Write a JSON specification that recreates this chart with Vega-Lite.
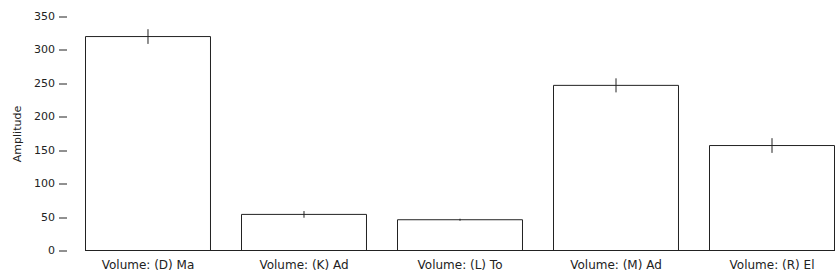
{
  "$schema": "https://vega.github.io/schema/vega-lite/v6.json",
  "autosize": {"type": "none"},
  "width": 749,
  "height": 234,
  "padding": {"left": 85.5, "top": 16.5, "right": 2.5, "bottom": 29.5},
  "background": "white",
  "config": {
    "view": {"stroke": null},
    "font": "DejaVu Sans",
    "axis": {"labelFont": "DejaVu Sans", "titleFont": "DejaVu Sans", "labelColor": "#222", "titleColor": "#222", "titleFontWeight": "normal", "labelFontSize": 11, "titleFontSize": 11, "grid": false, "labelOverlap": false}
  },
  "data": {
    "values": [
      {"volume": "Volume: (D) Ma", "amplitude": 320, "lo": 309, "hi": 331},
      {"volume": "Volume: (K) Ad", "amplitude": 54, "lo": 49, "hi": 59},
      {"volume": "Volume: (L) To", "amplitude": 46, "lo": 44.5, "hi": 47.5},
      {"volume": "Volume: (M) Ad", "amplitude": 247, "lo": 236.5, "hi": 257.5},
      {"volume": "Volume: (R) El", "amplitude": 157, "lo": 146, "hi": 168}
    ]
  },
  "encoding": {
    "x": {
      "field": "volume", "type": "nominal", "sort": null,
      "scale": {"paddingInner": 0.19872, "paddingOuter": 0},
      "axis": {"title": null, "ticks": false, "domain": false, "labelAngle": 0, "labelPadding": 9, "labelFontSize": 12}
    }
  },
  "layer": [
    {
      "mark": {"type": "bar", "fill": "white", "stroke": "#222", "strokeWidth": 1},
      "encoding": {
        "y": {
          "field": "amplitude", "type": "quantitative",
          "scale": {"domain": [0, 350], "nice": false},
          "axis": {"title": "Amplitude", "values": [0, 50, 100, 150, 200, 250, 300, 350], "labelOverlap": false, "domain": false, "offset": 19, "tickSize": 8, "tickColor": "#222", "labelPadding": 4, "titlePadding": 11}
        }
      }
    },
    {
      "mark": {"type": "rule", "color": "#222", "strokeWidth": 1},
      "encoding": {
        "y": {
          "field": "lo", "type": "quantitative",
          "axis": {"title": "Amplitude", "values": [0, 50, 100, 150, 200, 250, 300, 350], "labelOverlap": false, "domain": false, "offset": 19, "tickSize": 8, "tickColor": "#222", "labelPadding": 4, "titlePadding": 11}
        },
        "y2": {"field": "hi"}
      }
    },
    {
      "mark": {"type": "rule", "color": "#222", "strokeWidth": 1},
      "encoding": {
        "x": null,
        "y": {
          "datum": 0, "type": "quantitative",
          "axis": {"title": "Amplitude", "values": [0, 50, 100, 150, 200, 250, 300, 350], "labelOverlap": false, "domain": false, "offset": 19, "tickSize": 8, "tickColor": "#222", "labelPadding": 4, "titlePadding": 11}
        }
      }
    }
  ]
}
